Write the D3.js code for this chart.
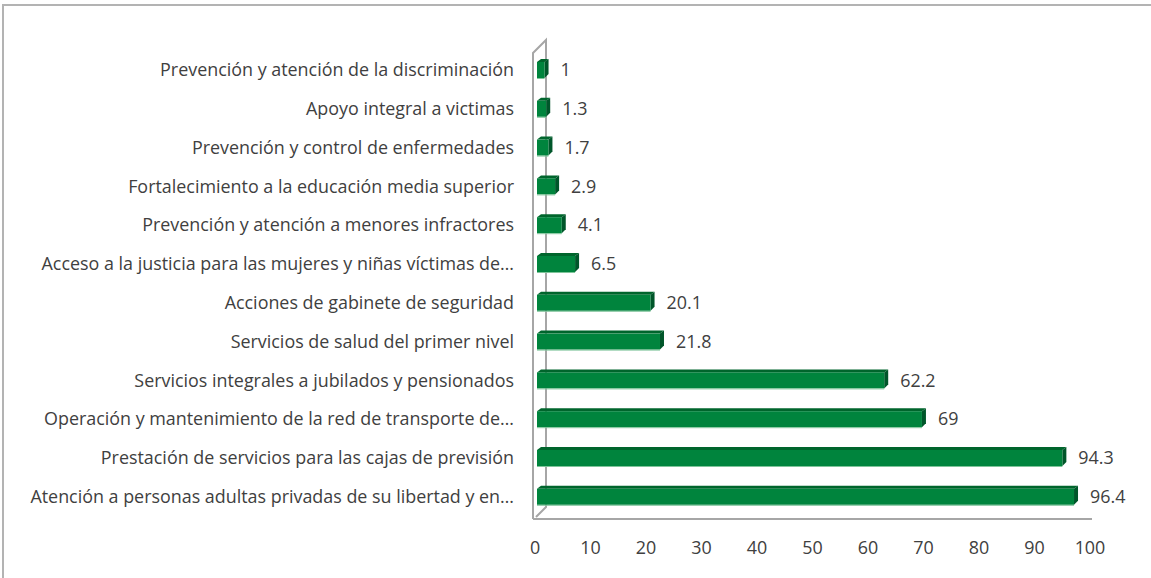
<!DOCTYPE html>
<html><head><meta charset="utf-8">
<script src="https://cdn.jsdelivr.net/npm/d3@7"></script>
<style>
html,body{margin:0;padding:0;background:#fff;}
svg{display:block;}
text{font-family:"Open Sans",Lato,sans-serif;fill:#404040;}
</style></head>
<body>
<svg id="c" width="1151" height="578"></svg>
<script>
const categories = [
  "Prevención y atención de la discriminación",
  "Apoyo integral a victimas",
  "Prevención y control de enfermedades",
  "Fortalecimiento a la educación media superior",
  "Prevención y atención a menores infractores",
  "Acceso a la justicia para las mujeres y niñas víctimas de…",
  "Acciones de gabinete de seguridad",
  "Servicios de salud del primer nivel",
  "Servicios integrales a jubilados y pensionados",
  "Operación y mantenimiento de la red de transporte de…",
  "Prestación de servicios para las cajas de previsión",
  "Atención a personas adultas privadas de su libertad y en…"
];
const values = [1, 1.3, 1.7, 2.9, 4.1, 6.5, 20.1, 21.8, 62.2, 69, 94.3, 96.4];
const valueLabels = ["1", "1.3", "1.7", "2.9", "4.1", "6.5", "20.1", "21.8", "62.2", "69", "94.3", "96.4"];
const xTicks = [0, 10, 20, 30, 40, 50, 60, 70, 80, 90, 100];

const svg = d3.select("#c");
const FS = 17.9;

// outer frame
svg.append("path").attr("d","M3,600 L3,5 L1200,5")
  .attr("fill","none").attr("stroke","#b3b3b3").attr("stroke-width",2);

const x = d3.scaleLinear().domain([0,100]).range([535,1090]);
const y = d3.scaleBand().domain(categories).range([50.6,516.2]);

// 3D wall + floor
const g = svg.append("g").attr("fill","none").attr("stroke","#a6a6a6").attr("stroke-width",2);
g.append("path").attr("d",`M${x(0)-2},519 L${x(0)-2},53 L546,40 L546,507 L536,517`);
g.append("path").attr("d",`M${x(0)-2},519 L${x(100)+2},519`);

// bars
const bars = svg.append("g");
categories.forEach((c,i)=>{
  const cy = y(c) + y.bandwidth()/2;
  const x0 = x(0)+2, x1 = x(values[i])+4;
  const top = cy-8, bot = cy+8, d = 4, h = 3;
  bars.append("path").attr("d",`M${x0},${top} L${x0+d},${top-h} L${x1+d},${top-h} L${x1},${top} Z`)
    .attr("fill","#00652c");
  bars.append("path").attr("d",`M${x1},${top} L${x1+d},${top-h} L${x1+d},${bot-h-1} L${x1},${bot} Z`)
    .attr("fill","#00562a");
  bars.append("rect").attr("x",x0).attr("y",top).attr("width",x1-x0).attr("height",bot-top)
    .attr("fill","#00843d");
  bars.append("line").attr("x1",x0).attr("x2",x1).attr("y1",bot+0.5).attr("y2",bot+0.5)
    .attr("stroke","#7fc49a").attr("stroke-width",1);
  svg.append("text").attr("x",x1+16).attr("y",cy).attr("dy","0.35em")
    .attr("font-size",FS).text(valueLabels[i]);
  svg.append("text").attr("x",514).attr("y",cy).attr("dy","0.35em")
    .attr("text-anchor","end").attr("font-size",FS).text(c);
});

svg.append("g").selectAll("text").data(xTicks).join("text")
  .attr("x",d=>x(d)).attr("y",548).attr("dy","0.35em")
  .attr("text-anchor","middle").attr("font-size",FS).text(d=>d);
</script>
</body></html>
